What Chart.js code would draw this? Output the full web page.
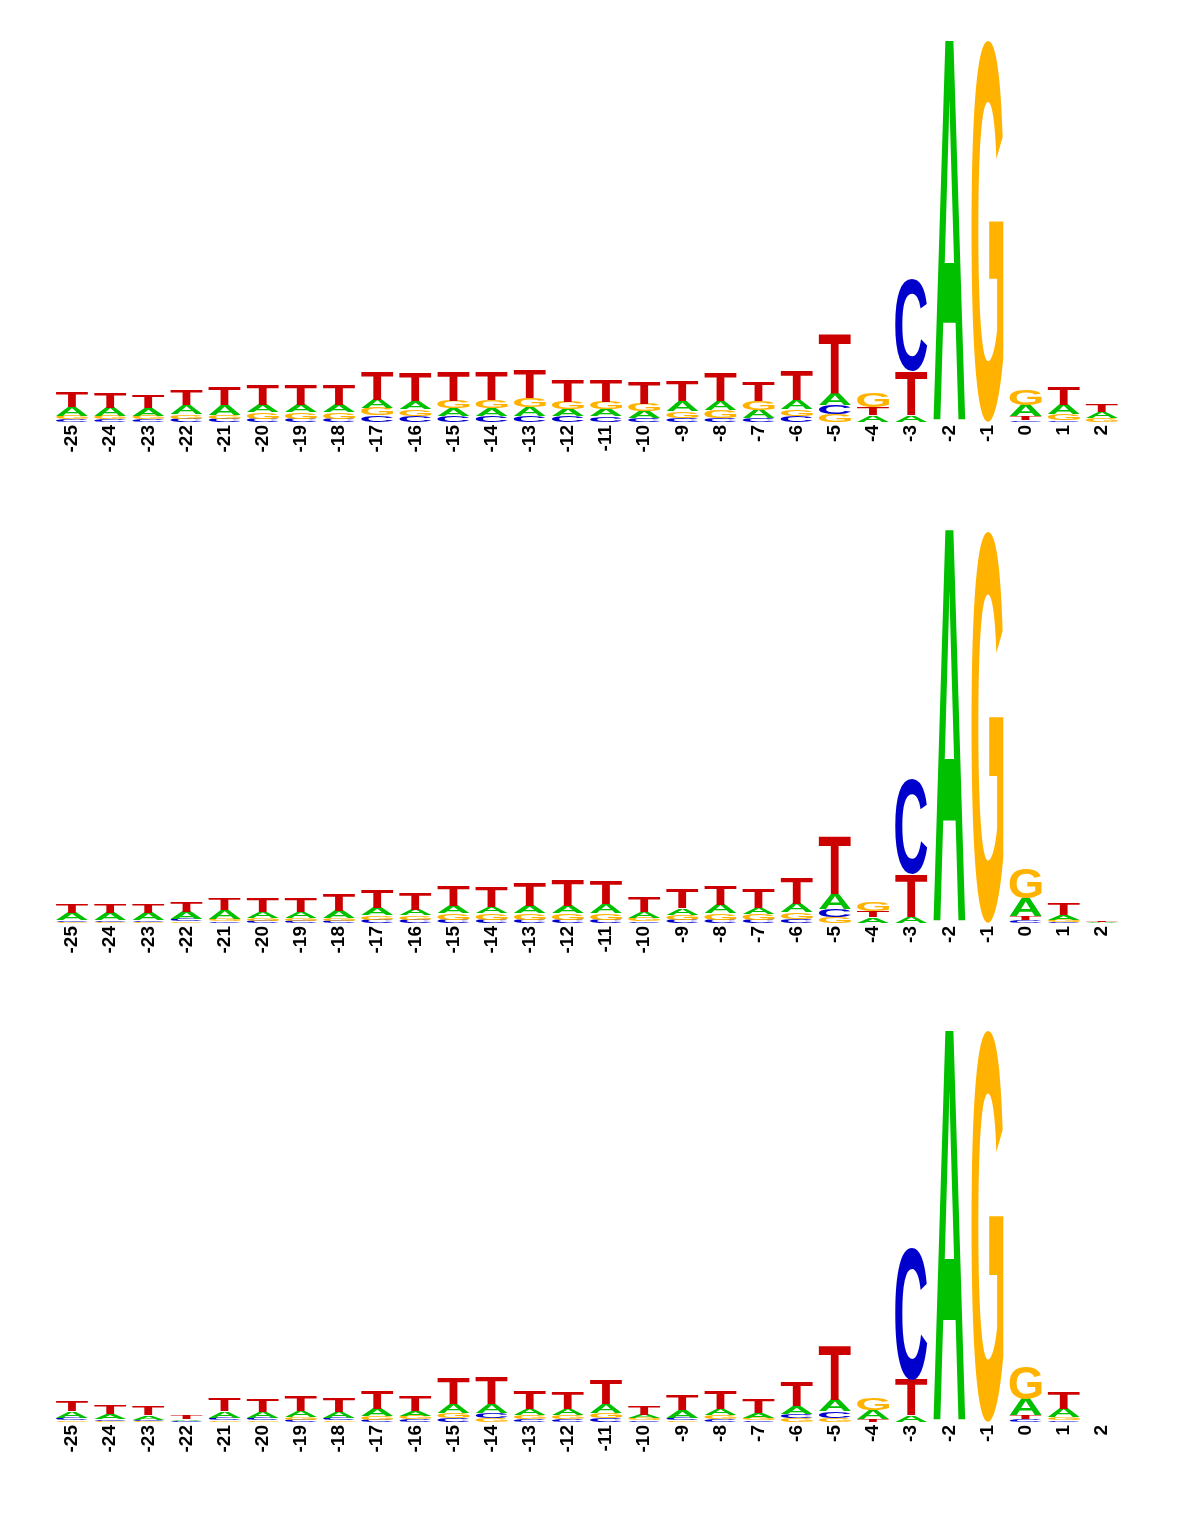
<!DOCTYPE html>
<html>
<head>
<meta charset="utf-8">
<script src="https://cdn.jsdelivr.net/npm/chart.js@4.4.1/dist/chart.umd.min.js"></script>
<style>
  body { margin: 0; background: #fff; }
  .panel { position: absolute; left: 0; width: 1200px; height: 500px; }
</style>
</head>
<body>
<div class="panel" style="top:0px"><canvas id="logo1" width="1200" height="500"></canvas></div>
<div class="panel" style="top:501px"><canvas id="logo2" width="1200" height="500"></canvas></div>
<div class="panel" style="top:1000px"><canvas id="logo3" width="1200" height="500"></canvas></div>
<script>
// positions relative to the splice site
const positions = ['-25','-24','-23','-22','-21','-20','-19','-18','-17','-16','-15','-14','-13','-12',
                   '-11','-10','-9','-8','-7','-6','-5','-4','-3','-2','-1','0','1','2'];

// information content (bits) per letter, panel 1
const p1A = [.045,.042,.040,.046,.050,.036,.036,.036,.042,.038,.037,.038,.046,.036,.036,.036,.050,.048,.044,.044,.060,.035,.035,1.939,0,.055,.050,.030];
const p1C = [.014,.014,.014,.016,.016,.016,.016,.016,.034,.032,.032,.032,.030,.030,.028,.018,.020,.022,.018,.030,.045,0,.465,0,0,.008,.008,0];
const p1G = [.016,.016,.016,.022,.020,.032,.032,.032,.038,.035,.040,.040,.048,.038,.038,.038,.036,.038,.046,.036,.040,.070,0,0,1.939,.080,.030,.020];
const p1T = [.075,.076,.066,.080,.090,.106,.106,.106,.142,.146,.150,.146,.146,.112,.112,.112,.106,.146,.100,.152,.300,.040,.222,0,0,.020,.090,.040];

// panel 2
const p2A = [.038,.038,.038,.038,.044,.033,.033,.038,.038,.030,.038,.035,.038,.038,.048,.032,.032,.044,.032,.044,.078,.028,.030,2.0,0,.092,.026,.003];
const p2C = [.008,.008,.008,.012,.008,.010,.010,.010,.016,.016,.016,.016,.016,.016,.016,.008,.016,.016,.016,.022,.040,0,.480,0,0,.014,.004,0];
const p2G = [.006,.006,.006,.008,.012,.014,.014,.014,.022,.022,.032,.032,.032,.032,.032,.016,.026,.032,.030,.032,.030,.048,0,0,1.99,.155,.012,0];
const p2T = [.045,.045,.048,.052,.056,.068,.068,.082,.088,.084,.104,.104,.118,.132,.118,.078,.098,.098,.098,.132,.295,.032,.215,0,0,.020,.058,.008];

// panel 3
const p3A = [.032,.026,.022,.008,.032,.032,.032,.032,.038,.028,.048,.048,.032,.032,.044,.016,.038,.032,.028,.038,.060,.048,.035,1.99,0,.082,.042,0];
const p3C = [.014,.008,.007,.003,.014,.012,.010,.012,.010,.014,.020,.024,.014,.014,.020,.008,.014,.014,.008,.022,.032,0,.672,0,0,.014,.008,0];
const p3G = [.008,.005,.005,.002,.008,.008,.014,.008,.020,.016,.024,.020,.020,.020,.026,.010,.008,.020,.010,.020,.022,.058,0,0,1.99,.165,.015,0];
const p3T = [.052,.048,.042,.018,.066,.066,.080,.072,.092,.076,.128,.138,.092,.082,.122,.046,.076,.092,.072,.122,.272,.014,.180,0,0,.020,.082,0];

const letterColors = { A: '#00c000', C: '#0000cc', G: '#ffb300', T: '#cc0000' };

// stack the letters of every column from smallest to largest
function buildDatasets(A, C, G, T) {
    const byLetter = { A, C, G, T };
    const ranks = [[], [], [], []];
    positions.forEach((_, i) => {
        const col = Object.keys(byLetter)
            .map(k => ({ k, v: byLetter[k][i] }))
            .sort((a, b) => a.v - b.v);
        col.forEach((c, r) => ranks[r].push(c));
    });
    return ranks.map(r => ({
        data: r.map(c => c.v),
        letters: r.map(c => c.k),
        backgroundColor: 'rgba(0,0,0,0)',
        borderWidth: 0,
        barPercentage: 0.84,
        categoryPercentage: 1
    }));
}

function drawLetter(ctx, ch, x0, y0, w, h) {
    ctx.save();
    ctx.font = 'bold 200px "Liberation Sans", Arial, sans-serif';
    ctx.textAlign = 'left';
    ctx.textBaseline = 'alphabetic';
    const m = ctx.measureText(ch);
    const gw = m.actualBoundingBoxLeft + m.actualBoundingBoxRight;
    const gh = m.actualBoundingBoxAscent + m.actualBoundingBoxDescent;
    ctx.translate(x0, y0);
    ctx.scale(w / gw, h / gh);
    ctx.fillStyle = letterColors[ch];
    ctx.fillText(ch, m.actualBoundingBoxLeft, m.actualBoundingBoxAscent);
    ctx.restore();
}

// paint each stacked bar as a stretched nucleotide glyph
const letterPlugin = {
    id: 'letters',
    afterDatasetsDraw(chart) {
        const ctx = chart.ctx;
        chart.data.datasets.forEach((ds, di) => {
            chart.getDatasetMeta(di).data.forEach((bar, i) => {
                const { x, y, base, width } = bar.getProps(['x', 'y', 'base', 'width'], true);
                const h = base - y;
                if (!(h > 0.3)) return;
                drawLetter(ctx, ds.letters[i], x - width / 2, y, width, h);
            });
        });
    }
};

function makeLogo(id, A, C, G, T) {
    new Chart(document.getElementById(id), {
        type: 'bar',
        data: { labels: positions, datasets: buildDatasets(A, C, G, T) },
        options: {
            responsive: false,
            animation: false,
            layout: { padding: { top: 28, left: 53, right: 79, bottom: 0 } },
            plugins: { legend: { display: false }, tooltip: { enabled: false } },
            scales: {
                x: {
                    stacked: true,
                    grid: { display: false, drawTicks: false },
                    border: { display: false },
                    ticks: {
                        autoSkip: false,
                        minRotation: 90,
                        maxRotation: 90,
                        padding: 3,
                        color: '#000',
                        font: { family: "'Liberation Sans', Arial, sans-serif", weight: 'bold', size: 19 }
                    },
                    afterFit: s => { s.height = 78; }
                },
                y: { stacked: true, display: false, min: 0, max: 2 }
            }
        },
        plugins: [letterPlugin]
    });
}

makeLogo('logo1', p1A, p1C, p1G, p1T);
makeLogo('logo2', p2A, p2C, p2G, p2T);
makeLogo('logo3', p3A, p3C, p3G, p3T);
</script>
</body>
</html>
